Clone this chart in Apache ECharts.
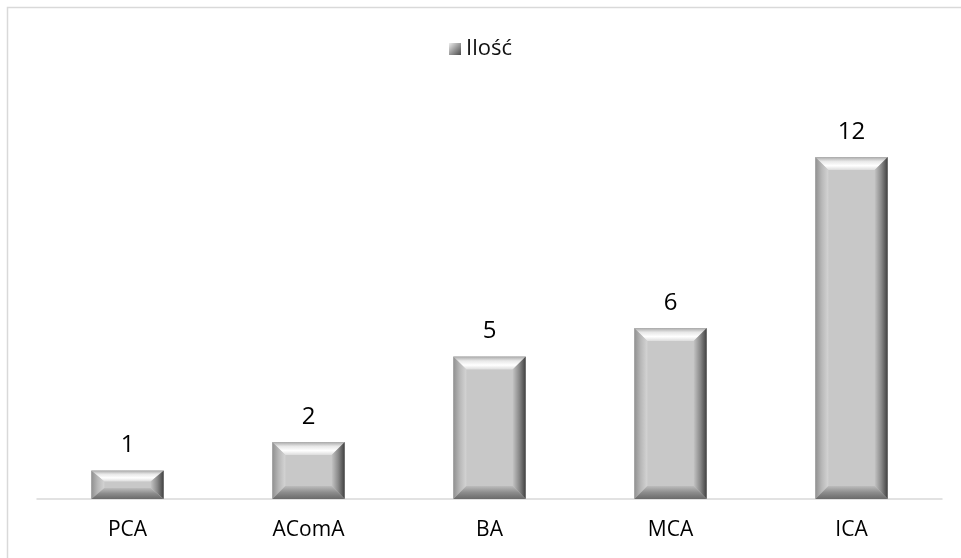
<!DOCTYPE html>
<html>
<head>
<meta charset="utf-8">
<script src="https://cdn.jsdelivr.net/npm/echarts@6/dist/echarts.min.js"></script>
<style>
  html, body { margin: 0; padding: 0; background: #fff; }
  #chart { width: 961px; height: 558px; }
</style>
</head>
<body>
<div id="chart"></div>
<script>
// Categories and counts
var categories = ['PCA', 'AComA', 'BA', 'MCA', 'ICA'];
var counts = [1, 2, 5, 6, 12];
var seriesName = 'Ilość';

var FONT = '"Open Sans", "Liberation Sans", sans-serif';

function grad(x, y, x2, y2, stops) {
  return new echarts.graphic.LinearGradient(x, y, x2, y2,
    stops.map(function (c, i) { return { offset: i / (stops.length - 1), color: c }; }));
}

// Bevelled bar: flat face plus four sloped edges
function renderBevelBar(params, api) {
  var idx = api.value(0);
  var val = api.value(1);
  var top = api.coord([idx, val]);
  var base = api.coord([idx, 0]);
  var bw = api.size([1, 0])[0] * 0.4;
  var x0 = top[0] - bw / 2, x1 = top[0] + bw / 2;
  var y0 = top[1], y1 = base[1];
  var h = y1 - y0;
  var bx = Math.min(13, bw / 4);
  var by = Math.min(13, h / 2.6);
  var ix0 = x0 + bx, ix1 = x1 - bx, iy0 = y0 + by, iy1 = y1 - by;
  return {
    type: 'group',
    children: [
      { type: 'rect', shape: { x: x0, y: y0, width: bw, height: h },
        style: { fill: '#c8c8c8' } },
      // top edge
      { type: 'polygon', shape: { points: [[x0, y0], [x1, y0], [ix1, iy0], [ix0, iy0]] },
        style: { fill: grad(0, 0, 0, 1, ['#a8a8a8', '#e8e8e8', '#ffffff', '#dcdcdc']) } },
      // left edge
      { type: 'polygon', shape: { points: [[x0, y0], [ix0, iy0], [ix0, iy1], [x0, y1]] },
        style: { fill: grad(0, 0, 1, 0, ['#909090', '#b8b8b8', '#d4d4d4']) } },
      // right edge
      { type: 'polygon', shape: { points: [[x1, y0], [x1, y1], [ix1, iy1], [ix1, iy0]] },
        style: { fill: grad(0, 0, 1, 0, ['#c4c4c4', '#8a8a8a', '#404040']) } },
      // bottom edge
      { type: 'polygon', shape: { points: [[x0, y1], [ix0, iy1], [ix1, iy1], [x1, y1]] },
        style: { fill: grad(0, 0, 0, 1, ['#bcbcbc', '#8c8c8c', '#6a6a6a']) } },
      // value label
      { type: 'text', x: top[0], y: y0 - 25,
        style: { text: String(val), fill: '#000', font: '24px ' + FONT,
                 textAlign: 'center', textVerticalAlign: 'middle' } }
    ]
  };
}

var chart = echarts.init(document.getElementById('chart'), null, { renderer: 'canvas' });
chart.setOption({
  animation: false,
  backgroundColor: '#fff',
  graphic: [
    { type: 'polyline', shape: { points: [[7.5, 558], [7.5, 7.5], [961, 7.5]] },
      style: { stroke: '#d9d9d9', lineWidth: 1.5, fill: null } }
  ],
  legend: {
    top: 33,
    left: 'center',
    itemWidth: 12,
    itemHeight: 12,
    itemGap: 4,
    icon: 'rect',
    textStyle: { fontSize: 22, color: '#111', fontFamily: FONT },
    data: [{ name: seriesName,
             itemStyle: { color: grad(0, 0, 1, 1, ['#eeeeee', '#9a9a9a', '#4a4a4a']) } }]
  },
  grid: { left: 37, right: 19, top: 100, bottom: 59, containLabel: false },
  xAxis: {
    type: 'category',
    data: categories,
    axisLine: { lineStyle: { color: '#d9d9d9', width: 1.5 } },
    axisTick: { show: false },
    axisLabel: { color: '#000', fontSize: 21, fontFamily: FONT, margin: 21 }
  },
  yAxis: {
    type: 'value',
    min: 0,
    max: 14,
    show: false,
    splitLine: { show: false }
  },
  series: [{
    name: seriesName,
    type: 'custom',
    renderItem: renderBevelBar,
    encode: { x: 0, y: 1 },
    itemStyle: { color: '#999' },
    data: counts.map(function (v, i) { return [i, v]; })
  }]
});
</script>
</body>
</html>
